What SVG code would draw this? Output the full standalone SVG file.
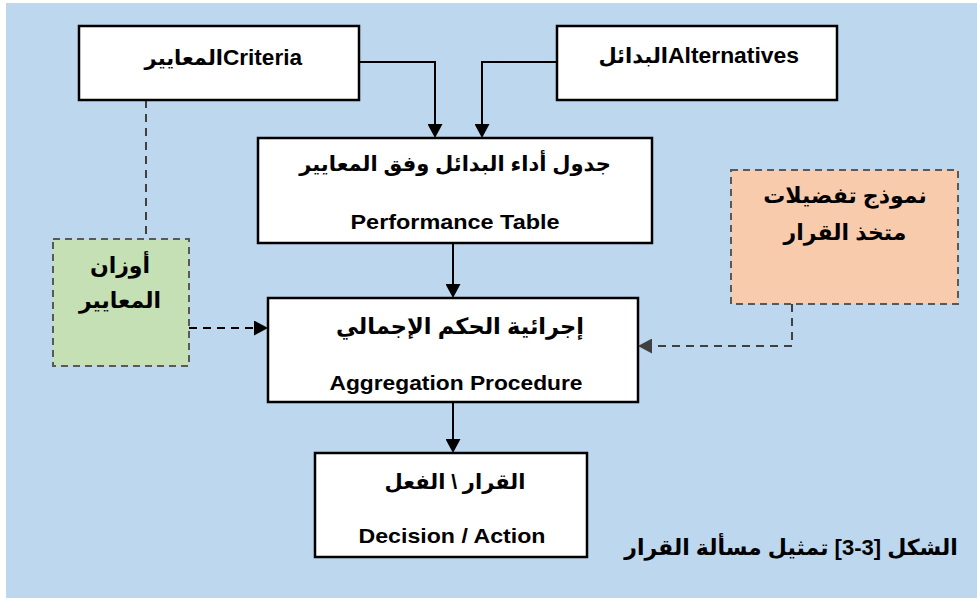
<svg xmlns="http://www.w3.org/2000/svg" width="977" height="598" viewBox="0 0 977 598">
  <style>
    .box { fill: #ffffff; stroke: #000000; stroke-width: 2.5; }
    .dbox { stroke: #595959; stroke-width: 2; stroke-dasharray: 7 5; }
    .en { font-family: "Liberation Sans", Arial, sans-serif; font-weight: bold; fill: #000000; }
    .ar { font-family: "Liberation Sans", "DejaVu Sans", sans-serif; font-weight: bold; fill: #000000; direction: rtl; unicode-bidi: embed; }
    .solid { fill: none; stroke: #000000; stroke-width: 2; }
    .dash { fill: none; stroke-width: 2; stroke-dasharray: 8 6; }
  </style>
  <defs>
    <marker id="arrowBlack" markerUnits="userSpaceOnUse" markerWidth="15" markerHeight="15" refX="10" refY="7.5" orient="auto">
      <path d="M0,0 L14,7.5 L0,15 Z" fill="#000000"/>
    </marker>
    <marker id="arrowGray" markerUnits="userSpaceOnUse" markerWidth="15" markerHeight="15" refX="10" refY="7.5" orient="auto">
      <path d="M0,0 L14,7.5 L0,15 Z" fill="#404040"/>
    </marker>
  </defs>

  <!-- page background -->
  <rect x="6" y="3" width="971" height="595" fill="#BDD7EE"/>

  <!-- connectors -->
  <g id="connectors">
    <path class="solid" d="M359,62 H435 V134" marker-end="url(#arrowBlack)"/>
    <path class="solid" d="M557,62 H482 V134" marker-end="url(#arrowBlack)"/>
    <path class="solid" d="M453,243 V294" marker-end="url(#arrowBlack)"/>
    <path class="solid" d="M453,402 V449" marker-end="url(#arrowBlack)"/>
    <path class="dash" stroke="#404040" stroke-dasharray="6 6" d="M146,100 V239"/>
    <path class="dash" stroke="#000000" d="M189,328 H264" marker-end="url(#arrowBlack)"/>
    <path class="dash" stroke="#404040" d="M792,304 V346 H642" marker-end="url(#arrowGray)"/>
  </g>

  <!-- criteria -->
  <g id="criteria">
    <rect class="box" x="79" y="26" width="280" height="74"/>
    <text class="ar" x="223" y="65" font-size="21" text-anchor="start">المعايير</text>
    <text class="en" x="223" y="65" font-size="22" textLength="79" lengthAdjust="spacingAndGlyphs">Criteria</text>
  </g>

  <!-- alternatives -->
  <g id="alternatives">
    <rect class="box" x="557" y="26" width="280" height="74"/>
    <text class="ar" x="668" y="63" font-size="21" text-anchor="start">البدائل</text>
    <text class="en" x="668" y="63" font-size="22" textLength="131" lengthAdjust="spacingAndGlyphs">Alternatives</text>
  </g>

  <!-- performance table -->
  <g id="performance-table">
    <rect class="box" x="258" y="138" width="394" height="105"/>
    <text class="ar" x="455" y="171" font-size="21" text-anchor="middle">جدول أداء البدائل وفق المعايير</text>
    <text class="en" x="455" y="229" font-size="21" text-anchor="middle" textLength="209" lengthAdjust="spacingAndGlyphs">Performance Table</text>
  </g>

  <!-- aggregation procedure -->
  <g id="aggregation">
    <rect class="box" x="268" y="298" width="370" height="104"/>
    <text class="ar" x="460" y="334" font-size="22.5" text-anchor="middle">إجرائية الحكم الإجمالي</text>
    <text class="en" x="456" y="390" font-size="21" text-anchor="middle" textLength="253" lengthAdjust="spacingAndGlyphs">Aggregation Procedure</text>
  </g>

  <!-- decision / action -->
  <g id="decision">
    <rect class="box" x="315" y="453" width="272" height="104"/>
    <text class="ar" x="455" y="489" font-size="21" text-anchor="middle">القرار \ الفعل</text>
    <text class="en" x="452" y="543" font-size="21" text-anchor="middle" textLength="187" lengthAdjust="spacingAndGlyphs">Decision / Action</text>
  </g>

  <!-- criteria weights -->
  <g id="weights">
    <rect class="dbox" x="53" y="239" width="136" height="127" fill="#C5E0B4"/>
    <text class="ar" x="120" y="273" font-size="22" text-anchor="middle">أوزان</text>
    <text class="ar" x="120" y="308" font-size="22" text-anchor="middle">المعايير</text>
  </g>

  <!-- decision maker preference model -->
  <g id="preferences">
    <rect class="dbox" x="731" y="170" width="227" height="134" fill="#F8CBAD"/>
    <text class="ar" x="845" y="203" font-size="22" text-anchor="middle">نموذج تفضيلات</text>
    <text class="ar" x="845" y="240" font-size="22" text-anchor="middle">متخذ القرار</text>
  </g>

  <!-- figure caption -->
  <text class="ar" x="791" y="555" font-size="22" text-anchor="middle">الشكل [3-3] تمثيل مسألة القرار</text>
</svg>
